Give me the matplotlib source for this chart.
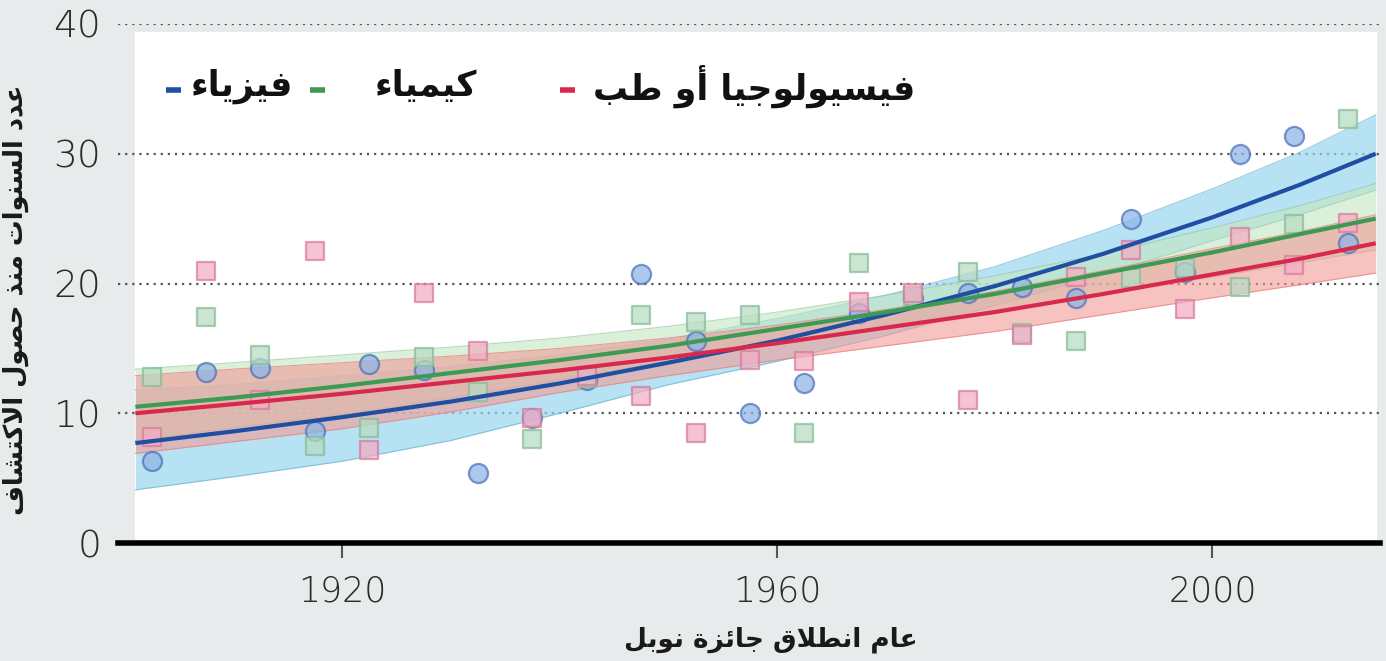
import numpy as np
import matplotlib
matplotlib.use("Agg")
import matplotlib.pyplot as plt
from matplotlib.patches import Rectangle

# --- data ---
years = [1902.5, 1907.5, 1912.5, 1917.5, 1922.5, 1927.5, 1932.5, 1937.5,
         1942.5, 1947.5, 1952.5, 1957.5, 1962.5, 1967.5, 1972.5, 1977.5,
         1982.5, 1987.5, 1992.5, 1997.5, 2002.5, 2007.5, 2012.5]
physics = [6.3, 13.2, 13.5, 8.6, 13.8, 13.3, 5.4, 9.6, 12.6, 20.7, 15.6, 10.0,
           12.3, 17.7, 18.9, 19.3, 19.7, 18.9, 25.0, 20.9, 30.0, 31.4, 23.1]
chemistry = [12.8, 17.4, 14.5, 7.5, 8.9, 14.3, 11.6, 8.0, 12.7, 17.6, 17.0, 17.6,
             8.5, 21.6, 19.0, 20.9, 16.2, 15.6, 20.4, 21.2, 19.7, 24.6, 32.7]
medicine = [8.2, 21.0, 11.0, 22.5, 7.2, 19.3, 14.8, 9.6, 12.9, 11.3, 8.5, 14.1,
            14.0, 18.6, 19.3, 11.0, 16.0, 20.5, 22.6, 18.0, 23.6, 21.4, 24.7]

# trend lines and their bands, read at these years
trend_years = [1901, 1910, 1920, 1930, 1940, 1950, 1960, 1970, 1980, 1990,
               2000, 2008, 2015]
physics_fit = [7.7, 8.6, 9.7, 10.9, 12.3, 13.9, 15.6, 17.6, 19.8, 22.3,
               25.1, 27.6, 30.0]
physics_lo = [4.1, 5.1, 6.3, 7.9, 10.0, 12.2, 14.0, 16.0, 18.3, 20.7,
              23.3, 25.3, 27.2]
physics_hi = [11.8, 12.2, 12.9, 13.6, 14.5, 15.7, 17.3, 19.1, 21.3, 24.1,
              27.3, 30.1, 33.0]
chemistry_fit = [10.5, 11.2, 12.1, 13.1, 14.1, 15.2, 16.5, 17.8, 19.2, 20.8,
                 22.4, 23.8, 25.0]
chemistry_lo = [7.9, 8.9, 9.9, 11.2, 12.6, 14.0, 15.4, 16.7, 17.9, 19.2,
                20.5, 21.6, 22.6]
chemistry_hi = [13.4, 13.9, 14.5, 15.1, 15.8, 16.7, 17.8, 19.1, 20.6, 22.3,
                24.3, 26.0, 27.7]
medicine_fit = [10.0, 10.7, 11.5, 12.4, 13.3, 14.3, 15.4, 16.6, 17.8, 19.2,
                20.7, 21.9, 23.1]
medicine_lo = [6.9, 7.8, 8.8, 10.1, 11.6, 12.9, 14.1, 15.2, 16.3, 17.6,
               18.9, 19.9, 20.8]
medicine_hi = [12.9, 13.4, 13.9, 14.4, 15.0, 15.8, 16.8, 18.0, 19.4, 21.0,
               22.7, 24.0, 25.3]

y_ticks = [0, 10, 20, 30, 40]
x_ticks = [1920, 1960, 2000]

label_physics = "فيزياء"
label_chemistry = "كيمياء"
label_medicine = "فيسيولوجيا أو طب"
x_title = "عام انطلاق جائزة نوبل"
y_title = "عدد السنوات منذ حصول الاكتشاف"

# --- minimal arabic shaping (presentation forms + visual order) ---
FORMS = {
    "\u0621": ("\uFE80", None, None, None),
    "\u0623": ("\uFE83", "\uFE84", None, None),
    "\u0626": ("\uFE89", "\uFE8A", "\uFE8B", "\uFE8C"),
    "\u0627": ("\uFE8D", "\uFE8E", None, None),
    "\u0628": ("\uFE8F", "\uFE90", "\uFE91", "\uFE92"),
    "\u0629": ("\uFE93", "\uFE94", None, None),
    "\u062A": ("\uFE95", "\uFE96", "\uFE97", "\uFE98"),
    "\u062C": ("\uFE9D", "\uFE9E", "\uFE9F", "\uFEA0"),
    "\u062D": ("\uFEA1", "\uFEA2", "\uFEA3", "\uFEA4"),
    "\u062F": ("\uFEA9", "\uFEAA", None, None),
    "\u0630": ("\uFEAB", "\uFEAC", None, None),
    "\u0632": ("\uFEAF", "\uFEB0", None, None),
    "\u0633": ("\uFEB1", "\uFEB2", "\uFEB3", "\uFEB4"),
    "\u0634": ("\uFEB5", "\uFEB6", "\uFEB7", "\uFEB8"),
    "\u0635": ("\uFEB9", "\uFEBA", "\uFEBB", "\uFEBC"),
    "\u0637": ("\uFEC1", "\uFEC2", "\uFEC3", "\uFEC4"),
    "\u0639": ("\uFEC9", "\uFECA", "\uFECB", "\uFECC"),
    "\u0641": ("\uFED1", "\uFED2", "\uFED3", "\uFED4"),
    "\u0642": ("\uFED5", "\uFED6", "\uFED7", "\uFED8"),
    "\u0643": ("\uFED9", "\uFEDA", "\uFEDB", "\uFEDC"),
    "\u0644": ("\uFEDD", "\uFEDE", "\uFEDF", "\uFEE0"),
    "\u0645": ("\uFEE1", "\uFEE2", "\uFEE3", "\uFEE4"),
    "\u0646": ("\uFEE5", "\uFEE6", "\uFEE7", "\uFEE8"),
    "\u0648": ("\uFEED", "\uFEEE", None, None),
    "\u064A": ("\uFEF1", "\uFEF2", "\uFEF3", "\uFEF4"),
}
LAM_ALEF = {"\u0627": ("\uFEFB", "\uFEFC"), "\u0623": ("\uFEF7", "\uFEF8")}


def joins_next(c):
    f = FORMS.get(c)
    return f is not None and f[2] is not None


def joins_prev(c):
    f = FORMS.get(c)
    return f is not None and f[1] is not None


def shape(text):
    out = []
    prev = None
    i = 0
    while i < len(text):
        c = text[i]
        if c not in FORMS:
            out.append(c)
            prev = None
            i += 1
            continue
        link_prev = prev is not None and joins_next(prev)
        if c == "\u0644" and i + 1 < len(text) and text[i + 1] in LAM_ALEF:
            iso, fin = LAM_ALEF[text[i + 1]]
            out.append(fin if link_prev else iso)
            prev = text[i + 1]
            i += 2
            continue
        nxt = text[i + 1] if i + 1 < len(text) else None
        link_next = joins_next(c) and nxt is not None and joins_prev(nxt)
        iso, fin, ini, med = FORMS[c]
        if link_prev and link_next:
            out.append(med)
        elif link_prev:
            out.append(fin)
        elif link_next:
            out.append(ini)
        else:
            out.append(iso)
        prev = c
        i += 1
    return "".join(reversed(out))


BG = "#e8ebec"
series = [
    # values, fit, lo, hi, marker, face, edge, line, band, band edge, band alpha
    (physics, physics_fit, physics_lo, physics_hi, "o",
     "#8db4e6", "#4f70b8", "#1f4ea3", "#98d6f0", "#6fb3d3", 0.70),
    (chemistry, chemistry_fit, chemistry_lo, chemistry_hi, "s",
     "#b7dcc2", "#88bb98", "#3d9a52", "#c4e6bf", "#9cc9a0", 0.60),
    (medicine, medicine_fit, medicine_lo, medicine_hi, "s",
     "#f3adc3", "#d77b9b", "#d8294c", "#f29c98", "#e5807e", 0.60),
]

fig = plt.figure(figsize=(13.86, 6.61), dpi=100, facecolor=BG)
ax = fig.add_axes([0.0851, 0.1785, 0.9106, 0.7852])
ax.set_facecolor(BG)
ax.set_xlim(1899.4, 2015.4)
ax.set_ylim(0, 40)

# white plot panel
ax.add_patch(Rectangle((1901.0, 0), 114.1, 39.4, facecolor="white",
                       edgecolor="none", zorder=0))

for yv in y_ticks[1:]:
    ax.axhline(yv, color="#555555", lw=1.6, ls=(0, (1, 2.2)), zorder=1)

for vals, fit, lo, hi, mk, face, edge, line, band, bedge, balpha in series:
    ax.fill_between(trend_years, lo, hi, color=band, alpha=balpha, lw=0,
                    zorder=2)
    ax.plot(trend_years, lo, color=bedge, lw=0.8, alpha=0.7, zorder=2)
    ax.plot(trend_years, hi, color=bedge, lw=0.8, alpha=0.7, zorder=2)

for vals, fit, lo, hi, mk, face, edge, *_ in series:
    ax.scatter(years, vals, marker=mk, s=190 if mk == "o" else 175,
               facecolor=face, edgecolor=edge, linewidth=1.6, alpha=0.72,
               zorder=3)

for vals, fit, lo, hi, mk, face, edge, line, *_ in series:
    ax.plot(trend_years, fit, color=line, lw=3, zorder=4,
            solid_capstyle="butt", solid_joinstyle="round")

for s in ["top", "right", "left"]:
    ax.spines[s].set_visible(False)
ax.spines["bottom"].set_linewidth(4)
ax.spines["bottom"].set_color("black")
ax.spines["bottom"].set_zorder(5)

ax.set_yticks(y_ticks)
ax.set_xticks(x_ticks)
ax.tick_params(axis="y", length=0, pad=12, labelsize=27, labelcolor="#2b2b2b")
ax.tick_params(axis="x", length=11, width=1.5, color="#555555", pad=12,
               labelsize=25, labelcolor="#2b2b2b")
for lab in ax.get_xticklabels() + ax.get_yticklabels():
    lab.set_fontweight("light")

ax.set_xlabel(shape(x_title), fontsize=19, fontweight="bold", color="#1a1a1a")
ax.xaxis.set_label_coords(0.517, -0.160)
ax.set_ylabel(shape(y_title), fontsize=18.5, fontweight="bold", color="#1a1a1a")
ax.yaxis.set_label_coords(-0.0705, 0.468)

# legend (right-to-left)
legend_items = [
    (label_medicine, "#d8294c", 0.632, 0.350),
    (label_chemistry, "#3d9a52", 0.285, 0.152),
    (label_physics, "#1f4ea3", 0.139, 0.038),
]
for text, color, x_right, x_dash in legend_items:
    ax.text(x_right, 0.880, shape(text), transform=ax.transAxes, ha="right",
            va="center", fontsize=25, fontweight="bold", color="#111111",
            zorder=6)
    ax.plot([x_dash, x_dash + 0.012], [0.873, 0.873], transform=ax.transAxes,
            color=color, lw=4, solid_capstyle="butt", zorder=6)

fig.savefig("out.png", dpi=100, facecolor=BG)
